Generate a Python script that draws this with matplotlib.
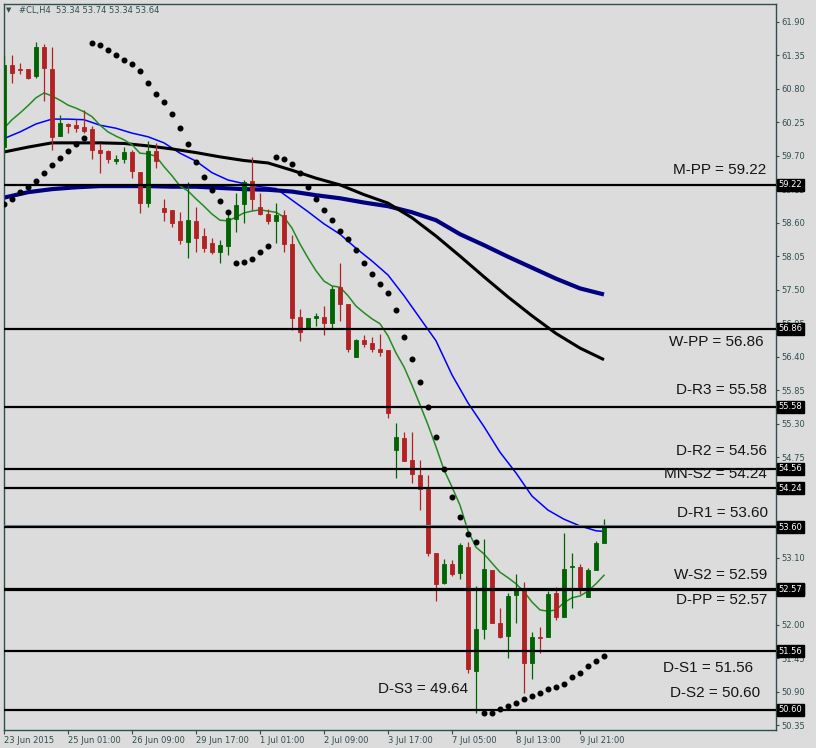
import matplotlib
matplotlib.use('Agg')
import matplotlib.pyplot as plt
import numpy as np
from matplotlib.transforms import blended_transform_factory

# ---------------- data ----------------
opens = [59.84,61.19,61.13,61.12,61.00,61.48,61.13,60.03,60.22,60.20,
         60.17,60.13,59.79,59.78,59.62,59.65,59.76,59.43,58.93,59.77,
         58.84,58.81,58.62,58.29,58.63,58.38,58.26,58.11,58.21,58.66,
         58.90,59.28,58.85,58.74,58.63,58.72,58.25,57.05,56.85,57.03,
         57.05,56.95,57.54,57.26,56.39,56.67,56.63,56.53,56.51,54.87,
         55.07,54.71,54.46,54.23,53.17,52.69,53.00,52.84,53.27,51.24,
         51.92,52.90,52.02,51.82,52.49,52.58,51.37,51.80,51.79,52.52,
         52.12,52.95,52.94,52.45,52.90,53.34]
highs = [61.35,61.35,61.22,61.12,61.56,61.53,61.48,60.37,60.24,60.30,
         60.45,60.18,59.90,59.80,59.71,59.84,59.79,59.43,59.94,59.90,
         58.99,58.81,58.78,59.26,58.86,58.52,58.35,58.32,58.81,59.08,
         59.30,59.68,59.08,58.82,58.93,58.80,58.40,57.18,57.03,57.11,
         57.23,57.56,57.93,57.26,56.69,56.76,56.72,56.77,56.51,55.31,
         55.16,55.16,54.70,54.46,53.17,53.07,53.06,53.34,53.35,52.63,
         53.40,52.90,52.28,52.52,52.83,52.70,51.87,51.96,52.55,52.62,
         53.51,53.17,52.99,52.93,53.38,53.74]
lows = [59.79,60.90,61.04,60.96,60.98,60.59,59.79,60.03,60.07,60.09,
        60.08,59.65,59.42,59.58,59.57,59.58,59.34,58.75,58.85,59.50,
        58.63,58.53,58.25,58.02,58.12,58.12,58.09,57.93,58.07,58.45,
        58.59,58.81,58.73,58.58,58.26,58.12,56.84,56.66,56.85,56.91,
        56.76,56.85,56.99,56.48,56.39,56.56,56.47,56.41,55.39,54.41,
        54.68,54.33,53.88,53.13,52.38,52.66,52.80,52.75,51.21,50.55,
        51.76,52.02,51.78,51.45,52.03,50.88,51.10,51.53,51.79,52.07,
        52.12,52.27,52.51,52.45,52.89,53.34]
closes = [61.19,61.06,61.10,60.98,61.48,61.14,60.01,60.23,60.19,60.16,
          60.11,59.80,59.75,59.64,59.65,59.76,59.44,58.93,59.77,59.61,
          58.78,58.59,58.31,58.64,58.35,58.19,58.12,58.23,58.67,58.89,
          59.27,58.98,58.74,58.62,58.72,58.25,57.03,56.81,57.03,57.07,
          56.95,57.51,57.26,56.52,56.67,56.61,56.53,56.48,55.48,55.08,
          54.69,54.47,54.23,53.18,52.66,52.99,52.83,53.30,51.27,51.92,
          52.91,52.03,51.80,52.47,52.60,51.37,51.79,51.78,52.50,52.12,
          52.91,52.96,52.60,52.90,53.34,53.64]

sar = [58.90,58.99,59.10,59.18,59.28,59.41,59.54,59.66,59.78,59.89,
       59.99,61.55,61.52,61.43,61.35,61.27,61.20,61.09,60.90,60.72,
       60.58,60.38,60.15,59.89,59.59,59.35,59.13,58.96,58.77,57.93,
       57.96,58.01,58.11,58.21,59.67,59.65,59.57,59.41,59.19,58.99,
       58.80,58.64,58.47,58.33,58.15,57.93,57.75,57.59,57.44,57.16,
       56.72,56.36,55.99,55.57,55.08,54.55,54.10,53.76,53.48,53.35,
       50.55,50.55,50.61,50.66,50.72,50.77,50.83,50.87,50.94,50.98,
       51.03,51.14,51.21,51.32,51.40,51.49]

ma_green = [60.15,60.29,60.40,60.52,60.65,60.73,60.68,60.61,60.53,60.48,
            60.42,60.34,60.20,60.09,60.02,59.96,59.88,59.74,59.73,59.69,
            59.52,59.37,59.20,59.12,58.99,58.87,58.74,58.64,58.63,58.69,
            58.76,58.79,58.81,58.79,58.77,58.69,58.51,58.25,58.02,57.81,
            57.64,57.56,57.54,57.40,57.23,57.12,57.02,56.94,56.74,56.46,
            56.23,55.93,55.61,55.28,54.92,54.54,54.26,53.96,53.54,53.27,
            53.16,53.01,52.86,52.77,52.67,52.54,52.37,52.24,52.22,52.24,
            52.36,52.44,52.47,52.55,52.67,52.81]

blue_idx = list(range(0, 76, 2)) + [75]
ma_blue = [59.98,60.09,60.22,60.30,60.30,60.29,60.20,60.15,60.07,60.01,
           59.91,59.74,59.61,59.42,59.30,59.24,59.19,59.16,58.97,58.78,
           58.58,58.41,58.18,57.97,57.74,57.40,57.03,56.66,56.10,55.64,
           55.25,54.83,54.49,54.11,53.88,53.73,53.62,53.54,53.53]

slow_idx = list(range(0, 76, 3))
ma_black = [59.76,59.84,59.91,59.91,59.91,59.90,59.86,59.81,59.75,59.68,
            59.62,59.58,59.46,59.33,59.22,59.06,58.92,58.68,58.38,58.05,
            57.71,57.38,57.07,56.78,56.54,56.35]
ma_navy = [59.01,59.10,59.15,59.18,59.20,59.20,59.20,59.19,59.19,59.17,
           59.15,59.14,59.11,59.05,59.00,58.93,58.87,58.77,58.64,58.41,
           58.23,58.04,57.86,57.68,57.52,57.42]

time_labels = ["23 Jun 2015", "25 Jun 01:00", "26 Jun 09:00", "29 Jun 17:00",
               "1 Jul 01:00", "2 Jul 09:00", "3 Jul 17:00", "7 Jul 05:00",
               "8 Jul 13:00", "9 Jul 21:00"]
time_label_idx = [0, 8, 16, 24, 32, 40, 48, 56, 64, 72]

price_ticks = [50.35, 50.90, 51.45, 52.00, 52.55, 53.10, 53.65, 54.20, 54.75,
               55.30, 55.85, 56.40, 56.95, 57.50, 58.05, 58.60, 59.15, 59.70,
               60.25, 60.80, 61.35, 61.90]

level_names = ["W-S2", "M-PP", "W-PP", "D-R3", "D-R2", "MN-S2", "D-R1",
               "D-PP", "D-S1", "D-S2", "D-S3"]
level_values = [52.59, 59.22, 56.86, 55.58, 54.56, 54.24, 53.60,
                52.57, 51.56, 50.60, 49.64]
# label placement (layout): right edge in bar units, vertical offset in px (negative = above)
label_right = [95.4, 95.3, 95.0, 95.4, 95.4, 95.4, 95.5, 95.4, 93.6, 94.5, 58.0]
label_dy_px = [-14, -14.5, 13.5, -17, -18, -14, -14, 10.5, 16.5, -17, -79]

header = "#CL,H4  53.34 53.74 53.34 53.64"

# ---------------- style ----------------
BG = '#DCDCDC'
FRAME = '#2F4F4F'
BULL = '#006400'
BEAR = '#B22222'

fig = plt.figure(figsize=(8.16, 7.48), dpi=100, facecolor=BG)
ax = fig.add_axes([4/816, 18/748, 772/816, 726/748])
ax.set_facecolor(BG)
ax.set_xlim(0, 96.5)
ax.set_ylim(50.269, 62.19)

x = np.arange(len(opens))
o = np.array(opens); c = np.array(closes)
h = np.array(highs); l = np.array(lows)
cols = np.where(c >= o, BULL, BEAR)

# moving averages
ax.plot(blue_idx, ma_blue, color='#0000FF', lw=1.1, zorder=2)
ax.plot(slow_idx, ma_navy, color='#000080', lw=3.0, zorder=2, solid_capstyle='butt')
ax.plot(slow_idx, ma_black, color='#000000', lw=2.2, zorder=2, solid_capstyle='butt')
ax.plot(x, ma_green, color='#228B22', lw=1.1, zorder=2)

# candles
ax.vlines(x, l, h, colors=cols, lw=0.9, zorder=3)
ax.bar(x, np.abs(c - o), bottom=np.minimum(o, c), width=0.62, color=cols,
       edgecolor=cols, linewidth=0.6, zorder=4)

# bid line
ax.axhline(closes[-1], color='#778899', lw=0.8, zorder=4.5)

# pivot levels
for v in level_values:
    ax.axhline(v, color='black', lw=1.6, zorder=5)

# parabolic SAR
ax.plot(x, sar, linestyle='none', marker='o', ms=3.3, color='black', zorder=6)

# level labels
for name, v, xr, dy in zip(level_names, level_values, label_right, label_dy_px):
    ax.annotate(f"{name} = {v:.2f}", xy=(xr, v), xytext=(0, -dy * 0.72),
                textcoords='offset points', ha='right', va='center',
                fontsize=11, family='Liberation Sans', color='#151515',
                zorder=7, annotation_clip=False)

# spines
for s in ax.spines.values():
    s.set_color(FRAME)
    s.set_linewidth(1.0)

# axes ticks
ax.yaxis.tick_right()
ax.set_yticks(price_ticks)
ax.set_yticklabels([f"{t:.2f}" for t in price_ticks])
ax.tick_params(axis='y', direction='out', length=2.5, width=0.8, pad=1.5,
               colors=FRAME, labelsize=6, labelcolor='#2F4F4F')
ax.set_xticks(time_label_idx)
ax.set_xticklabels(time_labels, ha='left')
ax.tick_params(axis='x', direction='out', length=3, width=0.8, pad=1.5,
               colors=FRAME, labelsize=6, labelcolor='#2F4F4F')
for lab in ax.get_xticklabels():
    lab.set_horizontalalignment('left')

# price tags on right axis
tr = blended_transform_factory(ax.transAxes, ax.transData)
y0, y1 = ax.get_ylim()
for v in level_values:
    if y0 <= v <= y1:
        ax.text(1.0035, v, f"{v:.2f}", transform=tr, ha='left', va='center',
                fontsize=6, color='white', zorder=10, clip_on=False,
                bbox=dict(boxstyle='square,pad=0.18', fc='black', ec='black'))

# header
fig.text(6/816, 1 - 10.5/748, "\u25BC", fontsize=5, color='#2F4F4F', va='center', ha='left')
fig.text(19/816, 1 - 10.5/748, header, fontsize=6, color='#2F4F4F', va='center', ha='left')

fig.savefig('out.png', dpi=100, facecolor=BG)
